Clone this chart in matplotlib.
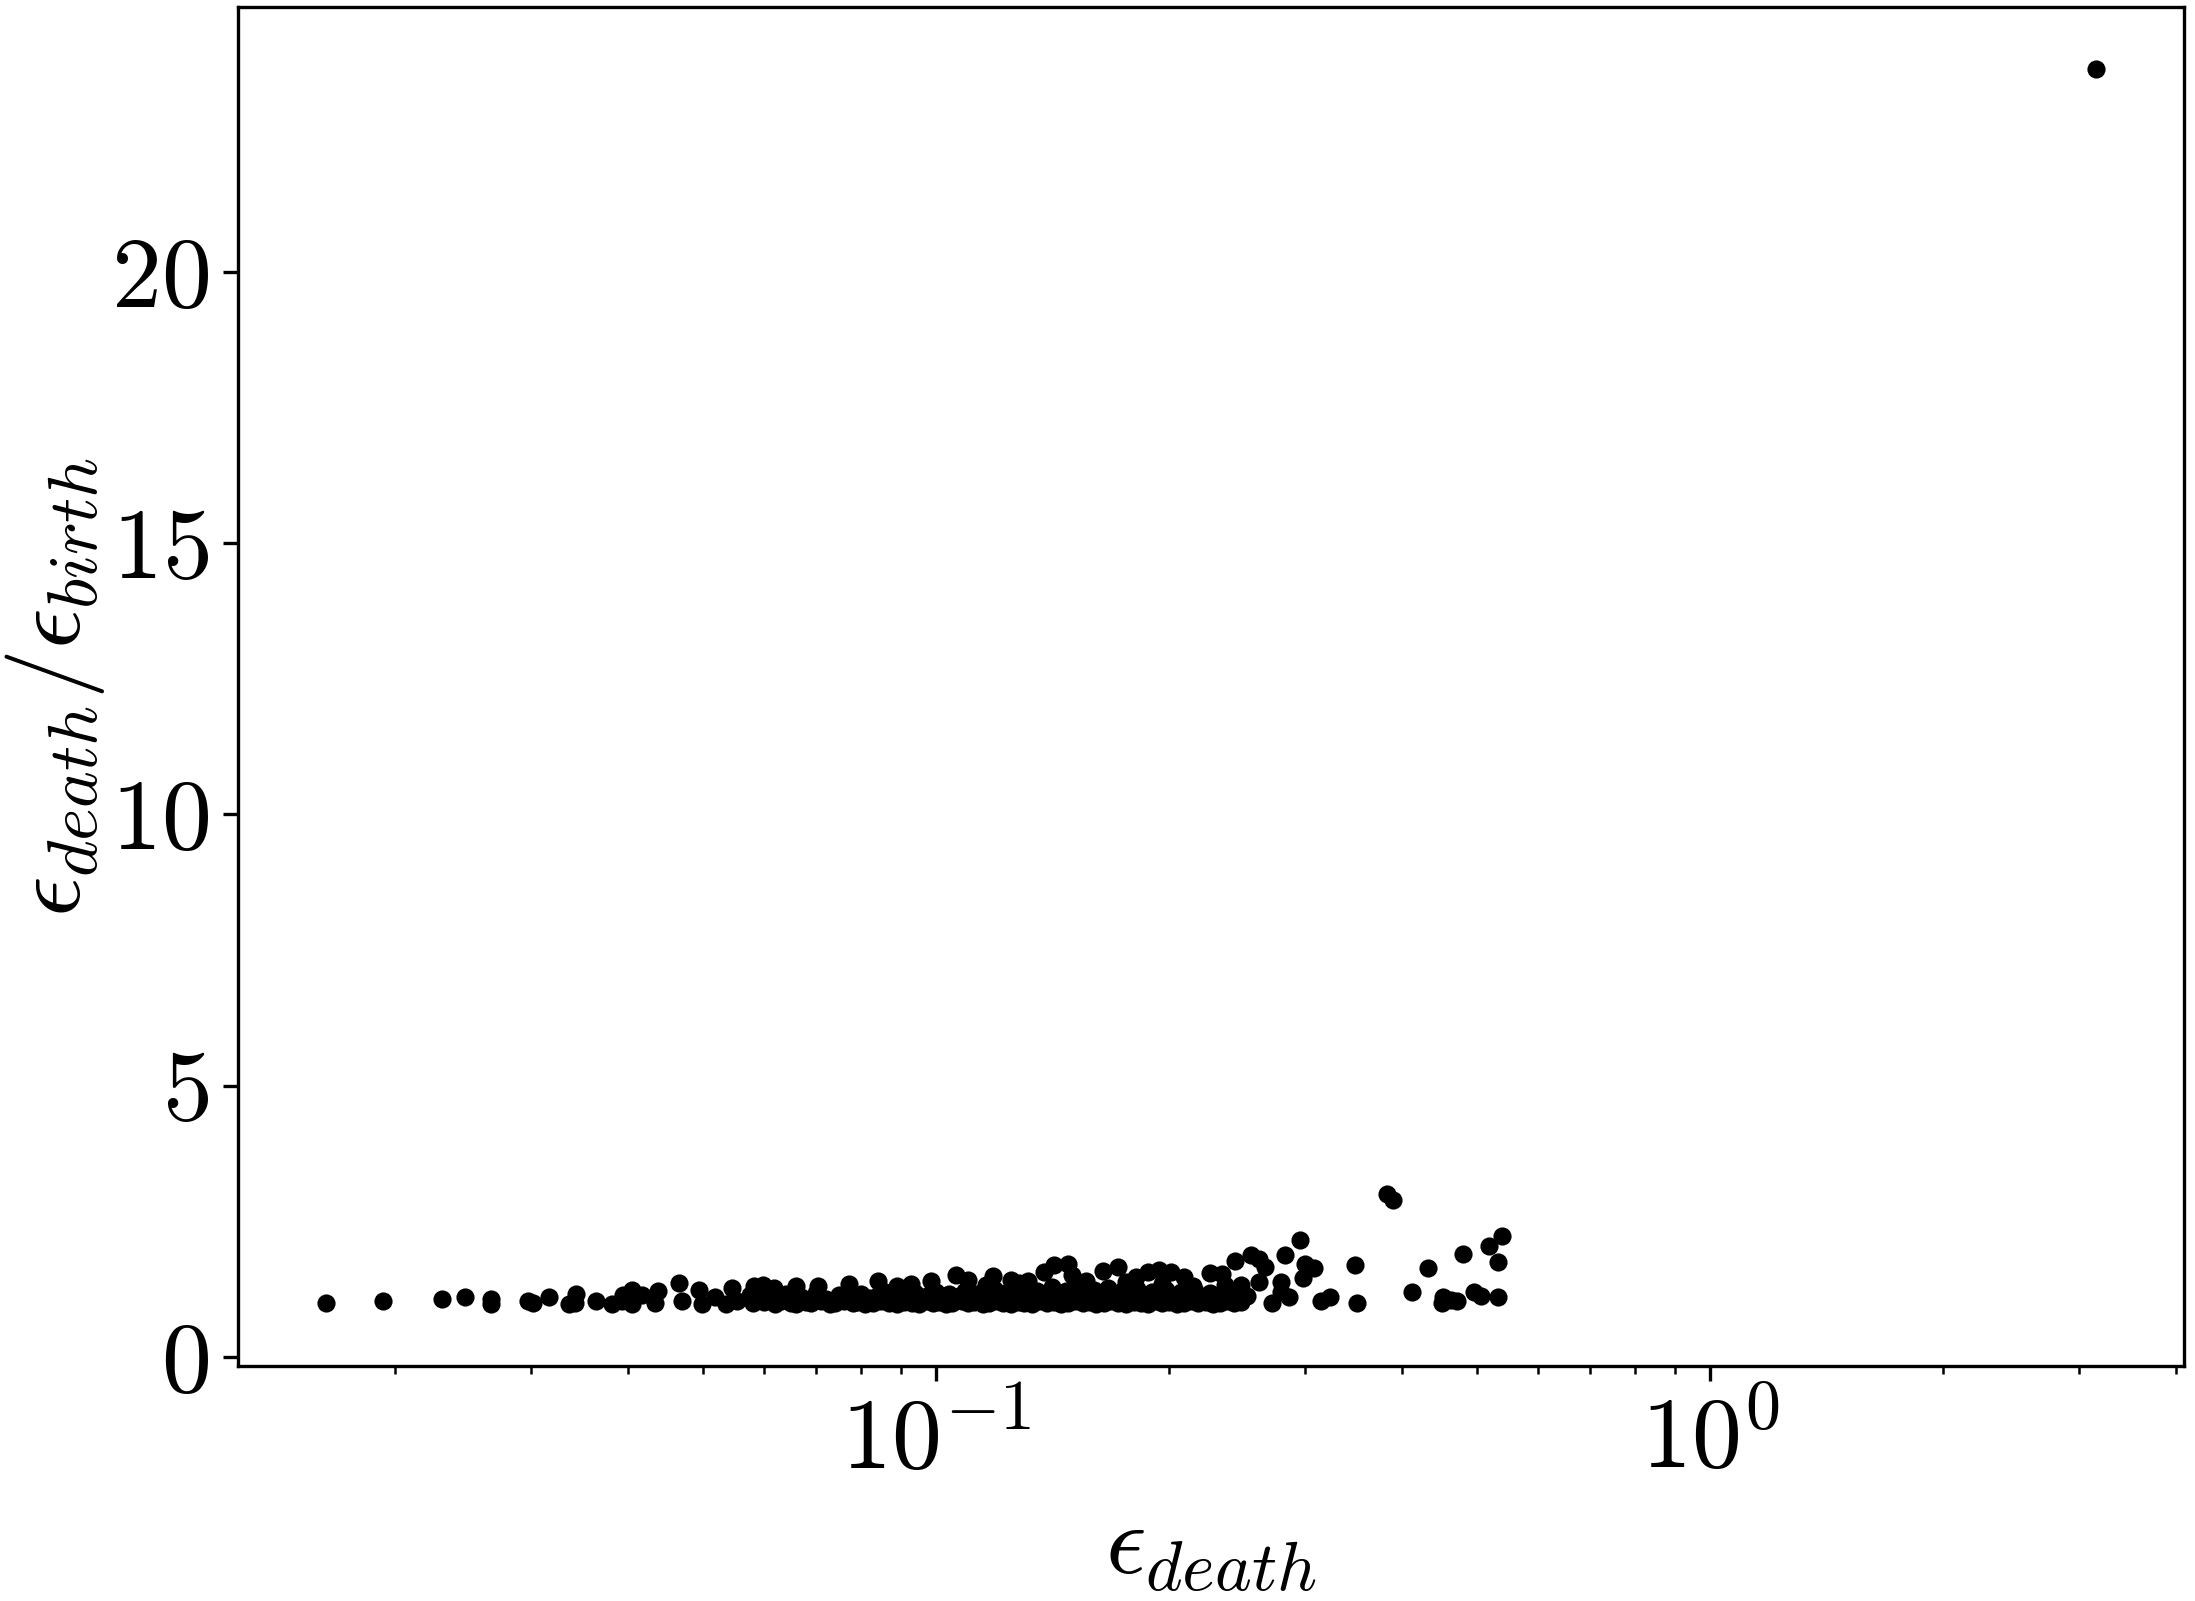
import matplotlib
matplotlib.use("Agg")
import matplotlib.pyplot as plt

plt.rcParams.update({
    "font.family": "serif",
    "font.serif": ["cmr10"],
    "mathtext.fontset": "cm",
    "axes.formatter.use_mathtext": True,
    "axes.unicode_minus": True,
    "font.size": 24,
})

# sparse low-epsilon points
x_sparse = [0.0163, 0.0193, 0.0230, 0.0246, 0.0266, 0.0266, 0.0297, 0.0301, 0.0316, 0.0335,
            0.0343, 0.0342, 0.0364, 0.0381, 0.0393, 0.0394, 0.0405, 0.0405, 0.0417, 0.0433,
            0.0437, 0.0465, 0.0469, 0.0494, 0.0498, 0.0518, 0.0535, 0.0545, 0.0553, 0.0575]
y_sparse = [1.00, 1.02, 1.07, 1.11, 1.06, 0.98, 1.03, 1.00, 1.10, 0.98,
            1.15, 1.00, 1.03, 0.98, 1.02, 1.14, 1.23, 0.98, 1.14, 1.00,
            1.21, 1.37, 1.02, 1.23, 0.98, 1.11, 0.98, 1.26, 1.02, 1.14]

# dense band, bottom row
x_band1 = [0.058, 0.060, 0.062, 0.063, 0.065, 0.066, 0.068, 0.069, 0.071, 0.073, 0.074, 0.076,
           0.078, 0.079, 0.081, 0.083, 0.085, 0.087, 0.089, 0.091, 0.093, 0.095, 0.097, 0.099,
           0.101, 0.103, 0.105, 0.108, 0.110, 0.112, 0.115, 0.117, 0.120, 0.122, 0.125, 0.128,
           0.130, 0.133, 0.136, 0.139, 0.142, 0.145, 0.148, 0.151, 0.155, 0.158, 0.161, 0.165,
           0.168, 0.172, 0.176, 0.180, 0.184, 0.188, 0.192, 0.196, 0.200, 0.205, 0.209, 0.214,
           0.218, 0.223, 0.228, 0.233, 0.238, 0.243, 0.248]
y_band1 = [0.99, 1.01, 0.98, 1.02, 1.00, 0.97, 1.01, 0.99, 1.03, 0.98, 1.00, 1.02,
           0.99, 1.01, 0.98, 1.00, 1.02, 0.99, 0.97, 1.01, 1.00, 0.98, 1.02, 0.99,
           1.01, 0.98, 1.00, 1.03, 0.99, 1.01, 0.98, 1.00, 1.02, 0.99, 0.97, 1.01,
           1.00, 0.98, 1.02, 0.99, 1.01, 0.98, 1.00, 1.03, 0.99, 1.01, 0.98, 1.00,
           1.02, 0.99, 0.97, 1.01, 1.00, 0.98, 1.02, 0.99, 1.01, 0.98, 1.00, 1.03,
           0.99, 1.01, 0.98, 1.00, 1.02, 0.99, 1.01]

# dense band, middle row
x_band2 = [0.059, 0.061, 0.064, 0.067, 0.070, 0.072, 0.075, 0.077, 0.080, 0.082, 0.084, 0.086,
           0.088, 0.090, 0.092, 0.094, 0.096, 0.098, 0.100, 0.102, 0.104, 0.107, 0.109, 0.111,
           0.114, 0.116, 0.119, 0.121, 0.124, 0.127, 0.129, 0.132, 0.135, 0.138, 0.141, 0.144,
           0.147, 0.150, 0.153, 0.157, 0.160, 0.163, 0.167, 0.170, 0.174, 0.178, 0.182, 0.186,
           0.190, 0.194, 0.198, 0.203, 0.207, 0.212, 0.216, 0.221, 0.226, 0.231, 0.236, 0.241,
           0.246, 0.252]
y_band2 = [1.12, 1.08, 1.15, 1.10, 1.18, 1.07, 1.14, 1.11, 1.16, 1.09, 1.13, 1.19,
           1.08, 1.15, 1.11, 1.17, 1.10, 1.14, 1.20, 1.09, 1.16, 1.12, 1.22, 1.10,
           1.18, 1.13, 1.24, 1.11, 1.19, 1.15, 1.26, 1.12, 1.21, 1.16, 1.28, 1.13,
           1.22, 1.17, 1.30, 1.14, 1.23, 1.18, 1.27, 1.12, 1.21, 1.16, 1.25, 1.13,
           1.20, 1.15, 1.24, 1.11, 1.19, 1.14, 1.22, 1.10, 1.17, 1.13, 1.20, 1.09,
           1.15, 1.12]

# dense band, upper envelope
x_upper = [0.0582, 0.0598, 0.0617, 0.0660, 0.0704, 0.0772, 0.0842, 0.0889, 0.0929, 0.0985,
           0.106, 0.110, 0.1184, 0.125, 0.1315, 0.1378, 0.142, 0.148, 0.150, 0.1642,
           0.1717, 0.1811, 0.188, 0.194, 0.201, 0.209, 0.226, 0.2344, 0.116, 0.128,
           0.156, 0.176, 0.196, 0.215, 0.236]
y_upper = [1.30, 1.32, 1.26, 1.30, 1.30, 1.35, 1.39, 1.30, 1.35, 1.39,
           1.51, 1.41, 1.49, 1.41, 1.40, 1.57, 1.70, 1.72, 1.51, 1.58,
           1.66, 1.48, 1.57, 1.60, 1.57, 1.48, 1.54, 1.52, 1.33, 1.36,
           1.40, 1.38, 1.35, 1.30, 1.32]

# scattered right-hand points
x_right = [0.3826, 0.390, 0.295, 0.2823, 0.2433, 0.255, 0.2615, 0.266, 0.300, 0.3078,
           0.298, 0.2787, 0.2615, 0.3483, 0.350, 0.314, 0.3228, 0.272, 0.2855, 0.2787,
           0.2480, 0.412, 0.4322, 0.479, 0.4525, 0.4625, 0.471, 0.4505, 0.4951, 0.5063,
           0.5186, 0.5385, 0.533, 0.533, 3.15]
y_right = [3.01, 2.89, 2.16, 1.87, 1.77, 1.87, 1.81, 1.66, 1.72, 1.63,
           1.45, 1.38, 1.38, 1.70, 0.99, 1.02, 1.10, 0.99, 1.11, 1.20,
           1.32, 1.20, 1.63, 1.89, 1.11, 1.05, 1.02, 0.99, 1.20, 1.12,
           2.05, 2.23, 1.75, 1.11, 23.75]

eps_death = x_sparse + x_band1 + x_band2 + x_upper + x_right
ratio = y_sparse + y_band1 + y_band2 + y_upper + y_right

fig = plt.figure(figsize=(2195 / 300, 1601 / 300), dpi=300)
ax = fig.add_axes([0.1084, 0.1468, 0.8866, 0.8488])
ax.scatter(eps_death, ratio, s=19, c="black", linewidths=0)
ax.set_xscale("log")
ax.set_yticks([0, 5, 10, 15, 20])
ax.set_xlabel(r"$\epsilon_{death}$", fontsize=24, labelpad=4)
ax.set_ylabel(r"$\epsilon_{death}/\epsilon_{birth}$", fontsize=24, labelpad=1)
ax.tick_params(labelsize=24)
fig.savefig("out.png", dpi=300)
